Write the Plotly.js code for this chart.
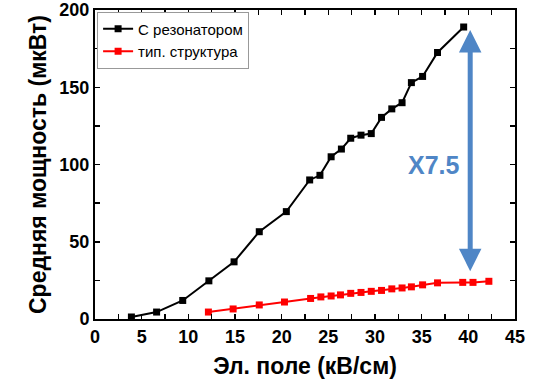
<!DOCTYPE html>
<html>
<head>
<meta charset="utf-8">
<script src="https://cdn.plot.ly/plotly-3.0.1.min.js"></script>
<style>html,body{margin:0;padding:0;background:#fff;}#chart{width:533px;height:388px;}</style>
</head>
<body>
<div id="chart"></div>
<script>
const resX = [3.9, 6.6, 9.4, 12.2, 14.9, 17.6, 20.5, 23.0, 24.1, 25.3, 26.4, 27.4, 28.5, 29.6, 30.7, 31.8, 32.9, 33.9, 35.1, 36.7, 39.5];
const resY = [1.3, 4.5, 12, 24.7, 37, 56.5, 69.5, 90, 93, 105, 110, 117, 119, 120, 130.5, 136, 140, 153, 157, 172.5, 189];
const refX = [12.15, 14.8, 17.6, 20.3, 23.1, 24.2, 25.3, 26.3, 27.4, 28.5, 29.6, 30.7, 31.8, 32.9, 33.9, 35.1, 36.7, 39.4, 40.5, 42.2];
const refY = [4.5, 6.5, 9.1, 11, 13.3, 14.3, 14.9, 15.6, 16.6, 17.2, 17.9, 18.5, 19.5, 20.1, 20.8, 22.1, 23.4, 23.7, 23.7, 24.4];
const seriesNames = ["С резонатором", "тип. структура"];
const xTickVals = [0,2.5,5,7.5,10,12.5,15,17.5,20,22.5,25,27.5,30,32.5,35,37.5,40,42.5,45];
const xTickText = ["0","","5","","10","","15","","20","","25","","30","","35","","40","","45"];
const yTickVals = [0,25,50,75,100,125,150,175,200];
const yTickText = ["0","","50","","100","","150","","200"];
const xTitle = "Эл. поле (кВ/см)";
const yTitle = "Средняя мощность (мкВт)";
const ratioLabel = "X7.5";
const arrowX = 40.2, arrowTop = 187, arrowBottom = 30;

const F = "Liberation Sans, Arial, sans-serif";
const bold = a => a.map(t => t ? "<b>" + t + "</b>" : "");
const traces = [
  {x: resX, y: resY, name: seriesNames[0], type: "scatter", mode: "lines+markers",
   line: {color: "#000", width: 2}, marker: {symbol: "square", size: 7, color: "#000"}},
  {x: refX, y: refY, name: seriesNames[1], type: "scatter", mode: "lines+markers",
   line: {color: "#ff0000", width: 2}, marker: {symbol: "square", size: 7, color: "#ff0000"}}
];
const axisCommon = {
  showline: true, linecolor: "#000", linewidth: 2, mirror: "allticks",
  ticks: "inside", ticklen: 5, tickwidth: 1.5, tickcolor: "#000",
  showgrid: false, zeroline: false,
  tickfont: {family: F, size: 18, color: "#000"}
};
const layout = {
  width: 533, height: 388,
  margin: {l: 95, r: 18, t: 10, b: 69},
  paper_bgcolor: "#fff", plot_bgcolor: "#fff",
  showlegend: true,
  legend: {x: 0.005, y: 0.995, xanchor: "left", yanchor: "top",
    bgcolor: "#fff", bordercolor: "#999", borderwidth: 1,
    font: {family: F, size: 15, color: "#000"}, tracegroupgap: 0, itemwidth: 30},
  xaxis: Object.assign({}, axisCommon, {range: [0, 45], tickvals: xTickVals, ticktext: bold(xTickText),
    title: {text: "<b>" + xTitle + "</b>", font: {family: F, size: 23, color: "#000"}, standoff: 12}}),
  yaxis: Object.assign({}, axisCommon, {range: [0, 200], tickvals: yTickVals, ticktext: bold(yTickText),
    title: {text: "<b>" + yTitle + "</b>", font: {family: F, size: 23, color: "#000"}, standoff: 6}}),
  annotations: [
    {x: arrowX, y: arrowTop, ax: arrowX, ay: arrowBottom, xref: "x", yref: "y", axref: "x", ayref: "y",
     showarrow: true, arrowside: "end+start", arrowhead: 2, arrowsize: 0.9, arrowwidth: 5, arrowcolor: "#4f86c6", text: ""},
    {x: 36.3, y: 100, xref: "x", yref: "y", text: "<b>" + ratioLabel + "</b>", showarrow: false,
     font: {family: F, size: 25, color: "#4f86c6"}}
  ]
};
Plotly.newPlot("chart", traces, layout, {displayModeBar: false, staticPlot: true});
</script>
</body>
</html>
